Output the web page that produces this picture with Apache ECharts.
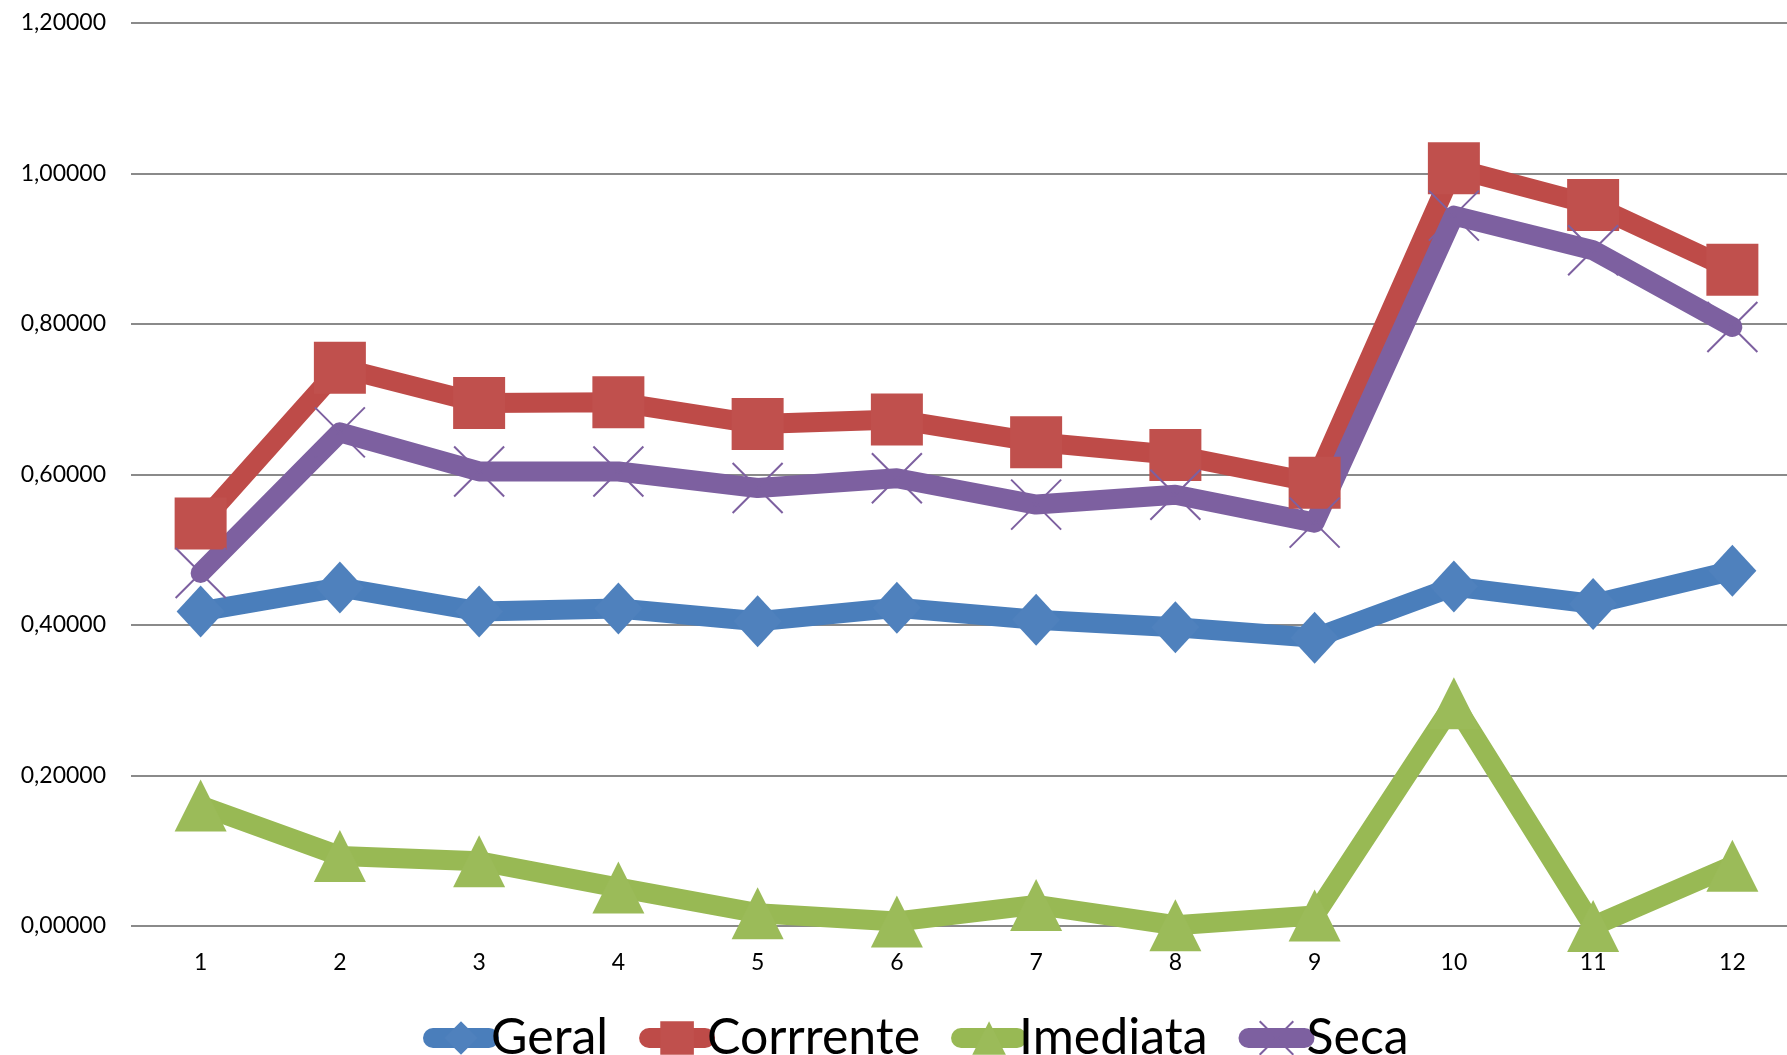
<!DOCTYPE html>
<html>
<head>
<meta charset="utf-8">
<script src="https://cdn.jsdelivr.net/npm/echarts@6/dist/echarts.min.js"></script>
<style>
html,body{margin:0;padding:0;background:#fff;}
#c{width:1787px;height:1055px;}
</style>
</head>
<body>
<div id="c"></div>
<script>
var categories = ['1','2','3','4','5','6','7','8','9','10','11','12'];
var geral    = [0.418, 0.450, 0.418, 0.422, 0.405, 0.423, 0.407, 0.397, 0.383, 0.451, 0.428, 0.472];
var corrente = [0.535, 0.742, 0.695, 0.696, 0.667, 0.673, 0.643, 0.626, 0.589, 1.007, 0.958, 0.872];
var imediata = [0.160, 0.093, 0.086, 0.051, 0.017, 0.006, 0.028, 0.001, 0.014, 0.296, 0.000, 0.080];
var seca     = [0.469, 0.656, 0.604, 0.604, 0.582, 0.595, 0.560, 0.573, 0.536, 0.944, 0.898, 0.796];
var seriesNames = ['Geral', 'Corrrente', 'Imediata', 'Seca'];

var FONT = 'Lato';
var chart = echarts.init(document.getElementById('c'), null, {renderer: 'canvas'});

function mk(name, data, lineColor, markColor, symbol, size, extra) {
  var s = {
    name: name,
    type: 'line',
    data: data,
    symbol: symbol,
    symbolSize: size,
    showAllSymbol: true,
    lineStyle: {color: lineColor, width: 20, cap: 'round', join: 'round'},
    itemStyle: {color: markColor},
    emphasis: {disabled: true},
    animation: false
  };
  if (extra) for (var k in extra) s[k] = extra[k];
  return s;
}

var option = {
  backgroundColor: '#ffffff',
  animation: false,
  grid: {left: 131, width: 1671, top: 23, bottom: 129, containLabel: false, outerBoundsMode: 'none'},
  legend: {
    data: seriesNames,
    left: 418,
    top: 1008,
    itemWidth: 56,
    itemHeight: 42,
    itemGap: 31,
    textStyle: {fontFamily: FONT, fontSize: 50, color: '#000', padding: [0, 0, 0, -3]},
    lineStyle: {width: 20, cap: 'round'}
  },
  xAxis: {
    type: 'category',
    data: categories,
    boundaryGap: true,
    axisLine: {show: false},
    axisTick: {show: false},
    axisLabel: {fontFamily: FONT, fontSize: 23, color: '#000', margin: 25}
  },
  yAxis: {
    type: 'value',
    min: 0,
    max: 1.2,
    interval: 0.2,
    axisLine: {show: false},
    axisTick: {show: false},
    splitLine: {lineStyle: {color: '#8a8a8a', width: 2}},
    axisLabel: {
      fontFamily: FONT, fontSize: 23, color: '#000', margin: 25,
      formatter: function (v) { return v.toFixed(5).replace('.', ','); }
    }
  },
  series: [
    mk(seriesNames[0], geral, '#4a7ebb', '#4f81bd', 'diamond', [48, 52]),
    mk(seriesNames[1], corrente, '#be4b48', '#c0504d', 'rect', [52, 52]),
    mk(seriesNames[2], imediata, '#98b954', '#9bbb59', 'triangle', [52, 52]),
    mk(seriesNames[3], seca, '#7d60a0', '#7d60a0', 'path://M0,0L10,10M10,0L0,10', [50, 50],
       {itemStyle: {color: 'rgba(0,0,0,0)', borderColor: '#7d60a0', borderWidth: 2}})
  ]
};
chart.setOption(option);
</script>
</body>
</html>
